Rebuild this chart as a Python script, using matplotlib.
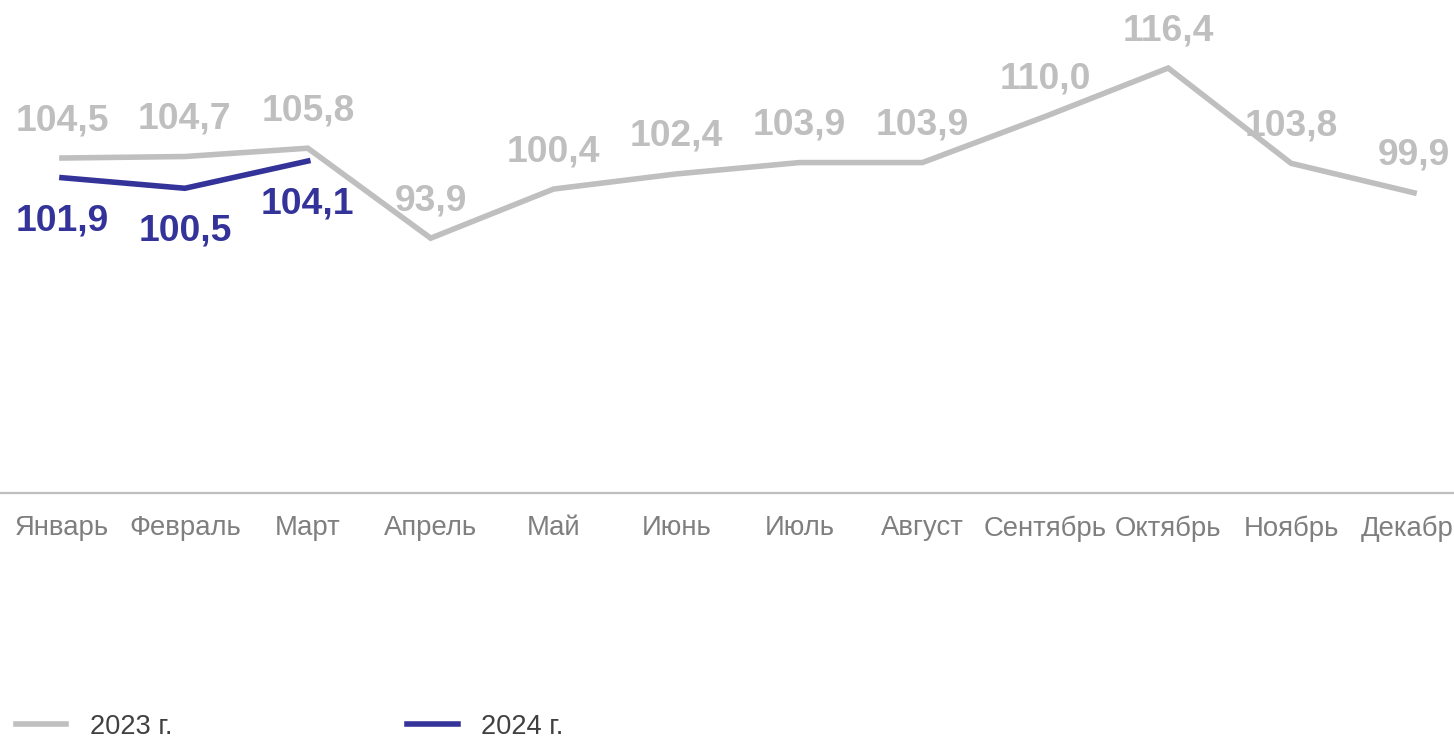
import matplotlib
matplotlib.use("Agg")
import matplotlib.pyplot as plt

plt.rcParams['font.family'] = ['Liberation Sans', 'DejaVu Sans']

months = ["Январь", "Февраль", "Март", "Апрель", "Май", "Июнь", "Июль",
          "Август", "Сентябрь", "Октябрь", "Ноябрь", "Декабрь"]
vals_2023 = [104.5, 104.7, 105.8, 93.9, 100.4, 102.4, 103.9, 103.9, 110.0, 116.4, 103.8, 99.9]
vals_2024 = [101.9, 100.5, 104.1]

gray = "#BFBFBF"
blue = "#333399"

fig = plt.figure(figsize=(14.54, 7.37), dpi=100)
ax = fig.add_axes([0.5 / 1454, 244 / 737, 1475 / 1454, 493 / 737])

x23 = list(range(len(vals_2023)))
x24 = list(range(len(vals_2024)))
ax.plot(x23, vals_2023, color=gray, lw=4, label="2023 г.", solid_joinstyle="miter")
ax.plot(x24, vals_2024, color=blue, lw=4, label="2024 г.", solid_joinstyle="miter")

def fmt(v):
    return f"{v:.1f}".replace(".", ",")

# подписи значений: 2023 над линией, 2024 под линией
for x, v in zip(x23, vals_2023):
    ax.annotate(fmt(v), (x, v), xytext=(0, 27), textcoords="offset points",
                ha="center", va="center", fontsize=26.8, fontweight="bold", color=gray)
for x, v in zip(x24, vals_2024):
    ax.annotate(fmt(v), (x, v), xytext=(0, -31), textcoords="offset points",
                ha="center", va="center", fontsize=26.8, fontweight="bold", color=blue)

ax.set_xlim(-0.5, 11.5)
ax.set_ylim(60.2, 125.4)
ax.set_xticks(x23)
ax.set_xticklabels(months, fontsize=19.8, color="#7F7F7F")
ax.tick_params(axis="x", length=0, pad=16)
ax.set_yticks([])
for s in ["top", "right", "left"]:
    ax.spines[s].set_visible(False)
ax.spines["bottom"].set_color(gray)
ax.spines["bottom"].set_linewidth(1.6)

leg = fig.legend(loc="center left", bbox_to_anchor=(16 / 1454, 10 / 737), ncol=2,
                 frameon=False, fontsize=19.6, handlelength=1.85, handletextpad=0.85,
                 columnspacing=8.65, borderpad=0, borderaxespad=0)
for t in leg.get_texts():
    t.set_color("#404040")

fig.savefig("out.png", dpi=100)
